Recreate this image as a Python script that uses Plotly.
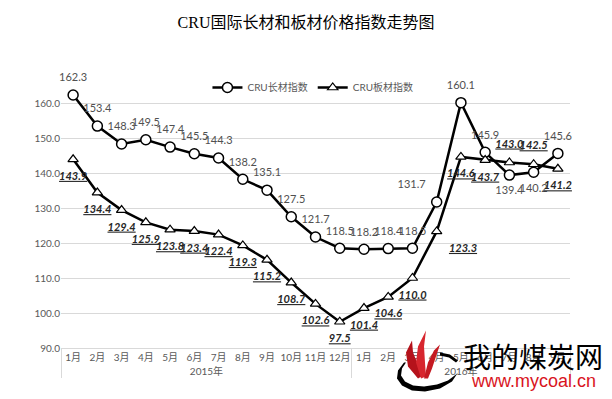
import plotly.graph_objects as go

years = ["2015年"] * 12 + ["2016年"] * 9
months = [f"{i}月" for i in range(1, 13)] + [f"{i}月" for i in range(1, 10)]

long_vals = [162.3, 153.4, 148.3, 149.5, 147.4, 145.5, 144.3, 138.2, 135.1, 127.5, 121.7, 118.5,
             118.2, 118.4, 118.5, 131.7, 160.1, 145.9, 139.4, 140.2, 145.6]
flat_vals = [143.9, 134.4, 129.4, 125.9, 123.8, 123.4, 122.4, 119.3, 115.2, 108.7, 102.6, 97.5,
             101.4, 104.6, 110.0, 123.3, 144.6, 143.7, 143.0, 142.5, 141.2]

long_pos = ["top center"] * 15 + ["top left", "top center", "top center",
                                  "bottom center", "bottom center", "top center"]
flat_pos = ["bottom center"] * 15 + ["bottom right", "bottom center", "bottom center",
                                     "top center", "top center", "bottom center"]

x = [years, months]
label_font = "Lato, Open Sans, sans-serif"

fig = go.Figure()
fig.add_trace(go.Scatter(
    x=x, y=long_vals, name="CRU长材指数", mode="lines+markers",
    line=dict(color="black", width=2.5),
    marker=dict(symbol="circle", size=10, color="white", line=dict(color="black", width=1.5)),
    cliponaxis=False,
))
fig.add_trace(go.Scatter(
    x=x, y=flat_vals, name="CRU板材指数", mode="lines+markers",
    line=dict(color="black", width=2.5),
    marker=dict(symbol="triangle-up", size=9, color="white", line=dict(color="black", width=1.2)),
    cliponaxis=False,
))
# data labels (invisible larger markers push labels a bit further from the points)
fig.add_trace(go.Scatter(
    x=x, y=long_vals, mode="text+markers", showlegend=False, hoverinfo="skip",
    marker=dict(size=16, opacity=0),
    text=[f"{v:.1f}" for v in long_vals], textposition=long_pos,
    textfont=dict(family=label_font, size=11, color="#505050"),
    cliponaxis=False,
))
fig.add_trace(go.Scatter(
    x=x, y=flat_vals, mode="text+markers", showlegend=False, hoverinfo="skip",
    marker=dict(size=18, opacity=0),
    text=[f"{v:.1f}" for v in flat_vals], textposition=flat_pos,
    textfont=dict(family=label_font, size=11, color="#262626",
                  weight="bold", style="italic", lineposition="under"),
    cliponaxis=False,
))

fig.update_layout(
    width=612, height=399,
    margin=dict(l=61, r=42, t=68, b=51, autoexpand=False),
    paper_bgcolor="white", plot_bgcolor="white",
    title=dict(text="CRU国际长材和板材价格指数走势图", x=0.5, xanchor="center", y=1 - 22 / 399, yanchor="middle",
               font=dict(family="Liberation Serif, Noto Sans CJK SC, serif", size=16, color="black")),
    legend=dict(orientation="h", x=0.495, xanchor="center", y=(347.6 - 73) / 279.6, yanchor="top",
                font=dict(family="Lato, Noto Sans CJK SC, sans-serif", size=10, color="#595959"),
                bgcolor="rgba(0,0,0,0)", itemwidth=30),
    showlegend=True,
    font=dict(family="Lato, Noto Sans CJK SC, sans-serif"),
)
fig.update_yaxes(range=[90, 170], tickvals=[90, 100, 110, 120, 130, 140, 150, 160],
                 tickformat=".1f", showgrid=True, gridcolor="#d9d9d9", gridwidth=1,
                 zeroline=False, showline=False, automargin=False, ticklen=0, ticks="",
                 tickfont=dict(family="Lato, Open Sans, sans-serif", size=10, color="#595959"))
fig.update_xaxes(type="multicategory", range=[-0.5, 20.5], autorange=False,
                 showline=True, linecolor="#d9d9d9", linewidth=1,
                 showgrid=False, dividercolor="#d9d9d9", dividerwidth=1, tickangle=0,
                 automargin=False,
                 tickfont=dict(family="Lato, Noto Sans CJK SC, sans-serif", size=10, color="#595959"))


# watermark (logo + text), positioned in pixels of the 612x399 page
def px(xp, yp):
    return (xp - 61) / 509, (347.6 - yp) / 279.6


def path(points, close=True):
    s = ""
    for i, (a, b) in enumerate(points):
        X, Y = px(a, b)
        s += ("M" if i == 0 else "L") + f"{X:.4f},{Y:.4f} "
    return s + ("Z" if close else "")


swoosh_outer = [(404, 362), (398, 370), (397, 378), (402, 385), (412, 390), (425, 391),
                (440, 388), (452, 381), (458, 372)]
swoosh_inner = [(456, 374), (448, 380), (437, 384), (424, 386), (413, 385), (405, 381),
                (401, 375), (402, 368), (406, 362)]
fig.add_shape(type="path", xref="paper", yref="paper", path=path(swoosh_outer + swoosh_inner),
              fillcolor="black", line=dict(width=0))
arc_top = [(440, 352), (450, 354), (458, 360), (456, 362), (449, 357), (440, 355)]
fig.add_shape(type="path", xref="paper", yref="paper", path=path(arc_top),
              fillcolor="black", line=dict(width=0))
flames = [
    [(418, 378), (408, 366), (406, 352), (412, 340), (413, 352), (418, 364), (423, 375)],
    [(421, 378), (416, 362), (418, 346), (426, 330), (424, 346), (425, 362), (426, 376)],
    [(424, 378), (428, 362), (434, 350), (440, 344), (436, 356), (432, 368), (428, 378)],
]
for fl, col in zip(flames, ["#b5121b", "#d7262e", "#c41a22"]):
    fig.add_shape(type="path", xref="paper", yref="paper", path=path(fl),
                  fillcolor=col, line=dict(width=0))

X, Y = px(533, 356)
fig.add_annotation(text="我的煤炭网", xref="paper", yref="paper", x=X, y=Y,
                   showarrow=False, font=dict(family="Noto Sans CJK SC", size=28, color="black"),
                   xanchor="center", yanchor="middle")
X, Y = px(533, 381)
fig.add_annotation(text="www.mycoal.cn", xref="paper", yref="paper", x=X, y=Y,
                   showarrow=False, font=dict(family="Liberation Sans, sans-serif", size=18, color="#d9141e"),
                   xanchor="center", yanchor="middle")

fig.write_html("out.html", post_script="document.body.style.margin='0';",
               config={"displayModeBar": False})
